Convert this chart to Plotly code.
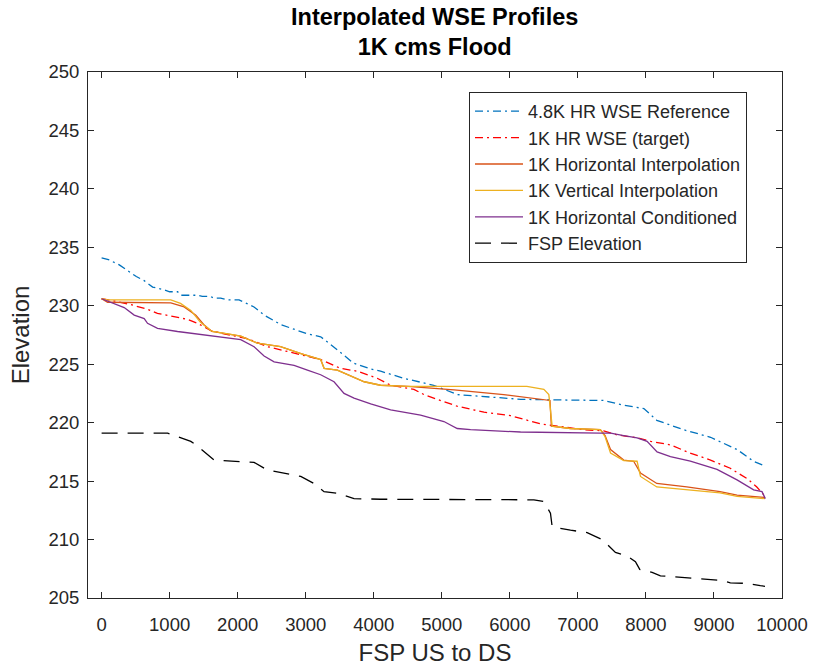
import plotly.graph_objects as go

# ---- data ----
ref_x = [0, 100, 260, 400, 510, 626, 750, 900, 1000, 1116, 1170, 1410, 1480, 1600, 1650, 1750, 1850, 2020, 2120,
         2240, 2390, 2630, 3020, 3220, 3470, 3700, 3950, 4100, 4440, 4880, 5230, 5670, 6160, 6650, 7380, 7670,
         7970, 8160, 8550, 8950, 9340, 9580, 9750]
ref_y = [234.1, 233.95, 233.5, 232.9, 232.5, 232.15, 231.6, 231.4, 231.2, 231.2, 230.9, 230.9, 230.8, 230.8, 230.65,
         230.65, 230.5, 230.5, 230.2, 229.9, 229.2, 228.4, 227.6, 227.35, 226.2, 225.1, 224.6, 224.4, 223.8, 223.2,
         222.4, 222.2, 222.0, 221.95, 221.9, 221.5, 221.2, 220.2, 219.4, 218.75, 217.7, 216.7, 216.3]

tgt_x = [0, 200, 430, 675, 820, 1065, 1260, 1410, 1600, 1800, 2140, 2440, 2880, 3220, 3510, 3760, 4050, 4250, 4590,
         4740, 5030, 5230, 5620, 6010, 6450, 6700, 7090, 7380, 7580, 7870, 8070, 8360, 8650, 8950, 9240, 9490,
         9630, 9750]
tgt_y = [230.6, 230.4, 230.1, 229.7, 229.35, 229.07, 228.84, 228.5, 227.9, 227.6, 227.2, 226.5, 225.9, 225.4,
         224.65, 224.4, 223.8, 223.2, 222.85, 222.4, 221.8, 221.4, 220.9, 220.6, 219.9, 219.7, 219.4, 219.3, 218.95,
         218.7, 218.4, 218.1, 217.4, 216.8, 216.1, 215.2, 214.5, 213.7]

hor_x = [0, 88, 1017, 1213, 1385, 1500, 1620, 1900, 2045, 2290, 2630, 2930, 3220, 3270, 3465, 3860, 4100, 4500,
         5180, 5910, 6550, 6590, 6610, 6890, 7330, 7400, 7480, 7674, 7820, 7920, 8160, 8600, 9090, 9340, 9750]
hor_y = [230.6, 230.3, 230.25, 229.9, 229.2, 228.4, 227.8, 227.55, 227.4, 226.8, 226.5, 225.9, 225.4, 224.65,
         224.5, 223.5, 223.2, 223.1, 222.8, 222.4, 221.95, 221.9, 219.7, 219.5, 219.4, 218.9, 217.7, 216.8, 216.7,
         215.7, 214.8, 214.5, 214.1, 213.8, 213.6]

ver_x = [0, 88, 1017, 1160, 1311, 1450, 1600, 1630, 1900, 2045, 2290, 2630, 2930, 3220, 3270, 3465, 3860, 4100,
         4500, 6250, 6500, 6573, 6622, 6890, 7330, 7400, 7480, 7674, 7870, 7920, 8160, 8600, 9090, 9340, 9750]
ver_y = [230.6, 230.5, 230.5, 230.2, 229.6, 228.6, 227.9, 227.8, 227.55, 227.4, 226.8, 226.5, 225.9, 225.4,
         224.65, 224.5, 223.5, 223.2, 223.1, 223.1, 222.85, 222.4, 219.7, 219.5, 219.4, 218.8, 217.4, 216.75,
         216.7, 215.4, 214.5, 214.25, 214.0, 213.7, 213.5]

con_x = [0, 137, 332, 479, 626, 675, 822, 1116, 1507, 1899, 2045, 2241, 2388, 2535, 2829, 3025, 3220, 3416, 3563,
         3710, 3955, 4248, 4688, 5031, 5227, 5423, 6157, 7331, 7482, 7674, 7870, 8017, 8164, 8360, 8653, 9045,
         9339, 9583, 9706, 9755]
con_y = [230.6, 230.3, 229.85, 229.2, 228.9, 228.5, 228.07, 227.8, 227.5, 227.2, 227.1, 226.5, 225.7, 225.2,
         224.9, 224.5, 224.1, 223.5, 222.5, 222.1, 221.6, 221.1, 220.65, 220.1, 219.5, 219.4, 219.2, 219.1, 219.1,
         218.9, 218.7, 218.4, 217.5, 217.1, 216.7, 216.0, 215.1, 214.25, 214.1, 213.5]

fsp_x = [0, 970, 1116, 1311, 1409, 1507, 1654, 2241, 2437, 2927, 3122, 3269, 3465, 3710, 4100, 6353, 6500, 6597,
         6622, 6891, 7136, 7357, 7552, 7724, 7846, 7909, 8091, 8213, 8555, 8947, 9119, 9241, 9486, 9681, 9750]
fsp_y = [219.1, 219.1, 218.8, 218.4, 218.0, 217.5, 216.8, 216.6, 215.95, 215.4, 214.8, 214.1, 213.96, 213.5,
         213.45, 213.4, 213.25, 212.25, 211.1, 210.8, 210.6, 210.0, 208.9, 208.6, 208.1, 207.45, 207.2, 206.9,
         206.75, 206.6, 206.5, 206.3, 206.25, 206.05, 206.0]

series = [
    ("4.8K HR WSE Reference", ref_x, ref_y, "#0072BD", "8px,4px,2px,4px"),
    ("1K HR WSE (target)", tgt_x, tgt_y, "#FF0000", "8px,4px,2px,4px"),
    ("1K Horizontal Interpolation", hor_x, hor_y, "#D95319", "solid"),
    ("1K Vertical Interpolation", ver_x, ver_y, "#EDB120", "solid"),
    ("1K Horizontal Conditioned", con_x, con_y, "#7E2F8E", "solid"),
    ("FSP Elevation", fsp_x, fsp_y, "#000000", "16px,10px"),
]

x_ticks = list(range(0, 10001, 1000))
x_labels = [str(v) for v in x_ticks]
y_ticks = list(range(205, 251, 5))
y_labels = [str(v) for v in y_ticks]

FONT = "Liberation Sans, Arial, Helvetica, sans-serif"
AX = "#262626"

fig = go.Figure()
for i, (name, xs, ys, col, dash) in enumerate(series):
    fig.add_trace(go.Scatter(x=xs, y=ys, mode="lines", name=name, legendgroup=f"g{i}",
                             line=dict(color=col, width=1.3, dash=dash)))

axis_common = dict(showgrid=False, zeroline=False, showline=True, linecolor=AX, linewidth=1,
                   mirror="ticks", ticks="inside", ticklen=6, tickcolor=AX, tickwidth=1,
                   automargin=False,
                   tickfont=dict(family=FONT, size=18.5, color=AX))

fig.update_layout(
    width=814, height=668,
    margin=dict(l=88, r=32, t=72, b=70, autoexpand=False),
    paper_bgcolor="white", plot_bgcolor="white",
    title=dict(text="<b>Interpolated WSE Profiles<br>1K cms Flood</b>", x=0.534, xanchor="center",
               y=0.963, yanchor="top", font=dict(family=FONT, size=23.5, color="#000000")),
    xaxis=dict(range=[-200, 10000], tickvals=x_ticks, ticktext=x_labels, ticklabelstandoff=10,
               title=dict(text="FSP US to DS", font=dict(family=FONT, size=24, color=AX), standoff=9),
               **axis_common),
    yaxis=dict(range=[205, 250], tickvals=y_ticks, ticktext=y_labels, ticklabelstandoff=4,
               title=dict(text="Elevation", font=dict(family=FONT, size=24, color=AX), standoff=12),
               **axis_common),
    legend=dict(x=0.549, y=0.962, xanchor="left", yanchor="top", bgcolor="white",
                bordercolor=AX, borderwidth=1, itemwidth=48, tracegroupgap=0,
                font=dict(family=FONT, size=18, color=AX)),
    showlegend=True,
)

fig.write_html("out.html")
